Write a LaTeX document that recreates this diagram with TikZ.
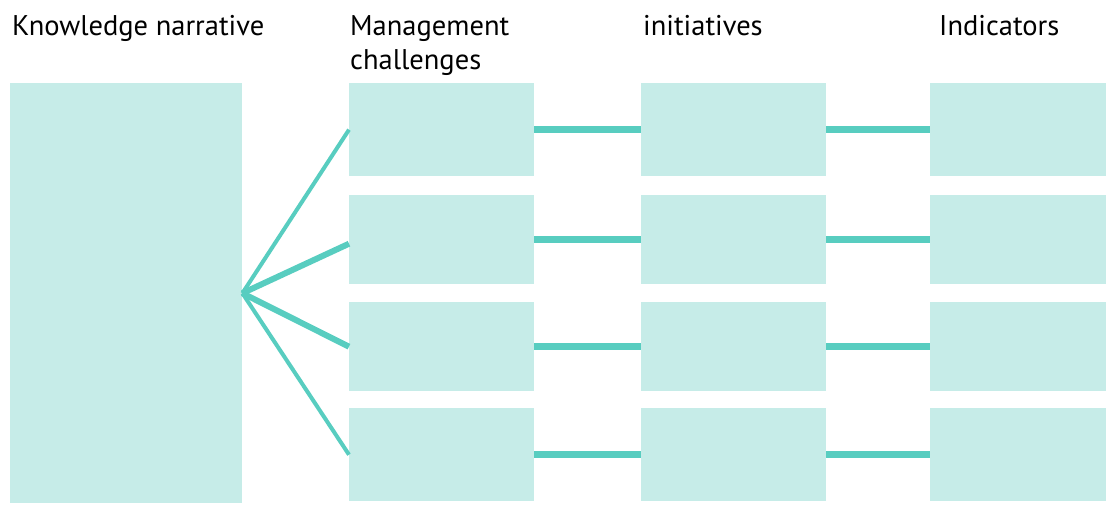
\documentclass[tikz,border=0pt]{standalone}
\usepackage{fontspec}
\setmainfont{PT Sans}
\definecolor{cellfill}{RGB}{198,236,232}
\definecolor{linkcol}{RGB}{88,205,192}
\tikzset{
  cell/.style={fill=cellfill, draw=none, anchor=north west, inner sep=0pt},
  link/.style={draw=linkcol, line width=7pt},
  fan/.style={draw=linkcol, line width=4pt},
  head/.style={anchor=base west, inner sep=0pt, align=left, font=\fontsize{28.5}{34}\selectfont}
}
\begin{document}
\begin{tikzpicture}[x=1pt,y=-1pt]
	\useasboundingbox (0,0) rectangle (1106,505);
	% column headings
	\node[head] (hkn) at (12,36) {Knowledge narrative};
	\node[head] (hmc) at (350,70) {Management\\challenges};
	\node[head] (hin) at (643,36) {initiatives};
	\node[head] (hid) at (939,36) {Indicators};
	
	\node[cell, minimum width=232pt, minimum height=420pt] (kn) at (10,83) {};
	
	\node[cell, minimum width=185pt, minimum height=93pt] (mc1) at (349,83) {};
	\node[cell, minimum width=185pt, minimum height=89pt] (mc2) at (349,195) {};
	\node[cell, minimum width=185pt, minimum height=89pt] (mc3) at (349,302) {};
	\node[cell, minimum width=185pt, minimum height=93pt] (mc4) at (349,408) {};
	
	\node[cell, minimum width=185pt, minimum height=93pt] (in1) at (641,83) {};
	\node[cell, minimum width=185pt, minimum height=89pt] (in2) at (641,195) {};
	\node[cell, minimum width=185pt, minimum height=89pt] (in3) at (641,302) {};
	\node[cell, minimum width=185pt, minimum height=93pt] (in4) at (641,408) {};
	
	\node[cell, minimum width=176pt, minimum height=93pt] (id1) at (930,83) {};
	\node[cell, minimum width=176pt, minimum height=89pt] (id2) at (930,195) {};
	\node[cell, minimum width=176pt, minimum height=89pt] (id3) at (930,302) {};
	\node[cell, minimum width=176pt, minimum height=93pt] (id4) at (930,408) {};
	
	\draw[fan] (kn.east) -- (mc1.west);
	\draw[fan, line width=6pt] (kn.east) -- ([yshift=-4pt]mc2.west);
	\draw[fan, line width=6pt] (kn.east) -- (mc3.west);
	\draw[fan] (kn.east) -- (mc4.west);
	
	\foreach \r in {1,2,3,4}{
		\draw[link] (mc\r.east) -- (in\r.west);
		\draw[link] (in\r.east) -- (id\r.west);
	}
\end{tikzpicture}
\end{document}
